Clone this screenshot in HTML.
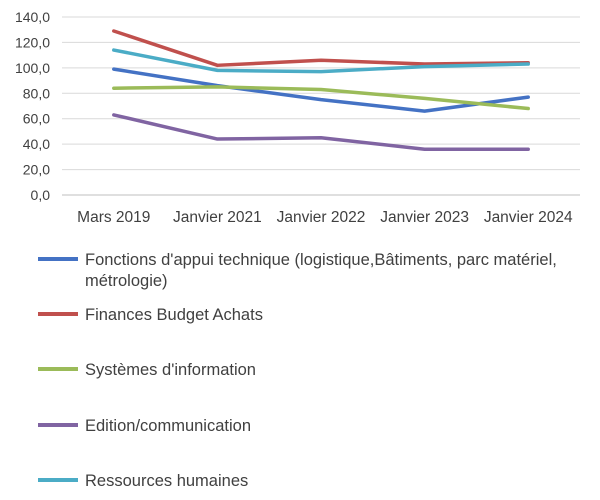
<!DOCTYPE html>
<html><head><meta charset="utf-8"><style>
body{margin:0;background:#fff;width:600px;height:495px;overflow:hidden;font-family:"Liberation Sans",sans-serif;}
</style></head><body>
<svg id="chart" width="600" height="495" xmlns="http://www.w3.org/2000/svg" font-family="Liberation Sans, sans-serif"></svg>
<script>
const categories=["Mars 2019","Janvier 2021","Janvier 2022","Janvier 2023","Janvier 2024"];
const yTicks=[0,20,40,60,80,100,120,140];
const seriesNames=["Fonctions d'appui technique (logistique,Bâtiments,  parc matériel,|métrologie)","Finances Budget Achats","Systèmes d'information","Edition/communication","Ressources humaines"];
const blueVals=[99,86,75,66,77];
const redVals=[129,102,106,103,104];
const greenVals=[84,85,83,76,68];
const purpleVals=[63,44,45,36,36];
const cyanVals=[114,98,97,101,103];
const colors=["#4472C4","#C0504D","#9BBB59","#8064A2","#4BACC6"];
const allSeries=[blueVals,redVals,greenVals,purpleVals,cyanVals];
const svg=document.getElementById('chart');
const NS="http://www.w3.org/2000/svg";
const L=62,R=580,T=17,B=195;
const x=i=>L+(R-L)/categories.length*(i+0.5);
const y=v=>B-(B-T)*v/140;
function mk(t,a){const e=document.createElementNS(NS,t);for(const k in a)e.setAttribute(k,a[k]);svg.appendChild(e);return e;}
yTicks.forEach(v=>{
 const g=mk('line',{x1:L,x2:R,y1:y(v),y2:y(v),stroke:v===0?'#bfbfbf':'#d9d9d9','stroke-width':1});
 
 
 const t=mk('text',{x:50,y:y(v)+5,'text-anchor':'end','font-size':14,fill:'#404040'});
 t.textContent=v.toFixed(1).replace('.',',');
 
 
});
categories.forEach((c,i)=>{
 const t=mk('text',{x:x(i),y:222,'text-anchor':'middle','font-size':15.5,fill:'#404040'});
 t.textContent=c;
 
 
});
allSeries.forEach((s,k)=>{
 const p=mk('polyline',{points:s.map((v,i)=>x(i)+','+y(v)).join(' '),fill:'none',stroke:colors[k],'stroke-width':3.5,'stroke-linejoin':'round','stroke-linecap':'round'});
 
 
});
const legY=[259,314,369,425,480];
seriesNames.forEach((n,k)=>{
 const l=mk('line',{x1:38,x2:78,y1:legY[k],y2:legY[k],stroke:colors[k],'stroke-width':4});
 
 
 n.split('|').forEach((part,j)=>{
  const t=mk('text',{x:85,y:legY[k]+6+j*21,'font-size':16.5,fill:'#404040','xml:space':'preserve'});
  t.textContent=part;
  
  
 });
});
</script>
</body></html>
